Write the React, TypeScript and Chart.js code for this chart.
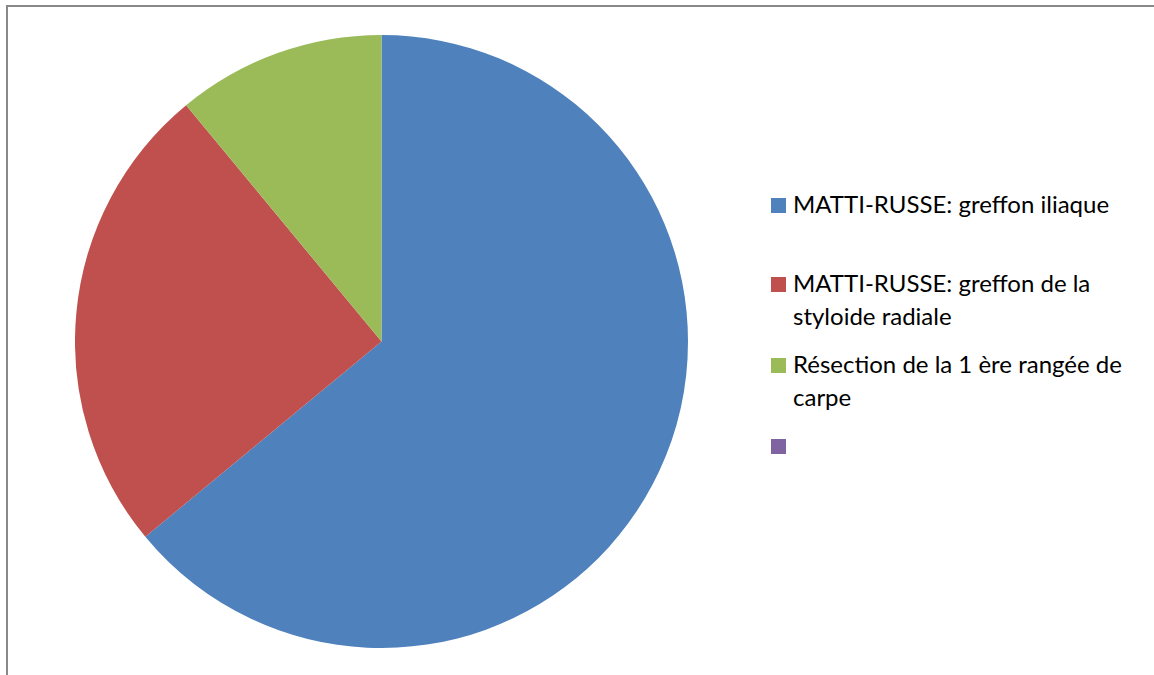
import React, { useEffect, useRef } from "react";
import { Chart, registerables } from "chart.js";

Chart.register(...registerables);

const categories: string[][] = [
  ["MATTI-RUSSE: greffon iliaque"],
  ["MATTI-RUSSE: greffon de la", "styloide radiale"],
  ["Résection de la 1 ère rangée de", "carpe"],
  [""],
];
const values: number[] = [64, 25, 11, 0];
const colors: string[] = ["#4F81BD", "#C0504D", "#9BBB59", "#8064A2"];
const legendTops: number[] = [187, 266, 347, 428];

export default function App() {
  const ref = useRef<HTMLCanvasElement | null>(null);

  useEffect(() => {
    if (!ref.current) return;
    const chart = new Chart(ref.current, {
      type: "pie",
      data: {
        labels: categories.map((c) => c.join(" ")),
        datasets: [
          {
            data: values,
            backgroundColor: colors,
            borderWidth: 0,
          },
        ],
      },
      options: {
        responsive: false,
        animation: false,
        layout: { padding: 0 },
        plugins: {
          legend: { display: false },
          tooltip: { enabled: false },
        },
      },
    });
    return () => chart.destroy();
  }, []);

  return (
    <div
      style={{
        position: "fixed",
        left: 0,
        top: 0,
        width: 1154,
        height: 675,
        background: "#fff",
        overflow: "hidden",
        fontFamily: "Lato, 'Open Sans', sans-serif",
      }}
    >
      <div
        style={{
          position: "absolute",
          left: 6,
          top: 5,
          width: 1160,
          height: 700,
          borderTop: "2px solid #888",
          borderLeft: "2px solid #888",
          boxSizing: "border-box",
        }}
      />
      <canvas
        ref={ref}
        width={613}
        height={613}
        style={{ position: "absolute", left: 75, top: 35, width: 613, height: 613 }}
      />
      {categories.map((lines, i) => (
        <div
          key={i}
          style={{ position: "absolute", left: 771, top: legendTops[i], width: 380 }}
        >
          <div
            style={{
              position: "absolute",
              left: 0,
              top: 11,
              width: 15,
              height: 15,
              background: colors[i],
            }}
          />
          <div
            style={{
              position: "absolute",
              left: 22,
              top: 0,
              fontSize: 24,
              lineHeight: "33px",
              color: "#000",
              whiteSpace: "nowrap",
            }}
          >
            {lines.map((l, j) => (
              <div key={j}>{l || "\u00a0"}</div>
            ))}
          </div>
        </div>
      ))}
    </div>
  );
}
